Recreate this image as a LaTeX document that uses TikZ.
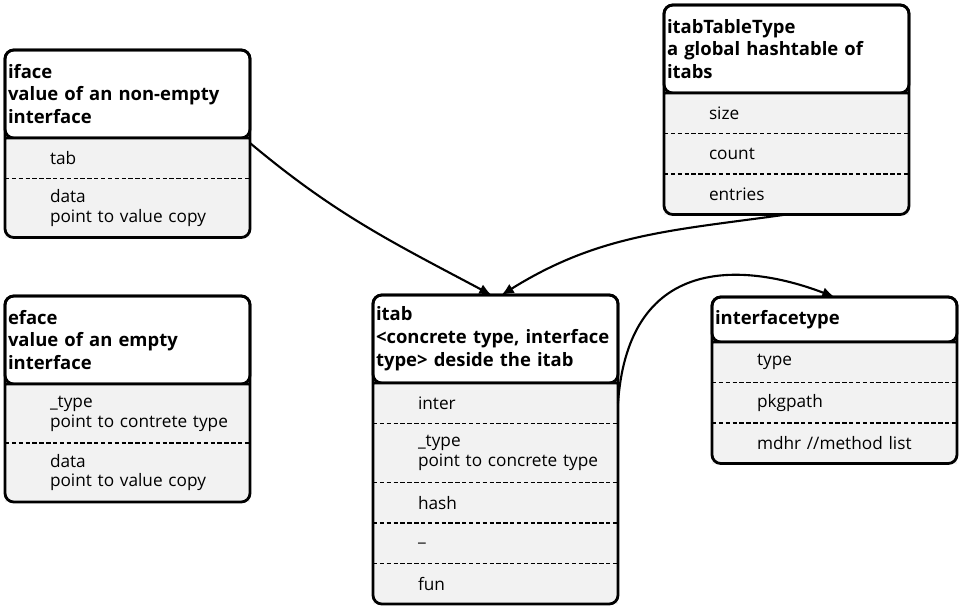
\documentclass[tikz,border=0pt]{standalone}
\usepackage{fontspec}
\setmainfont{Open Sans}
\usetikzlibrary{positioning,arrows.meta}
\tikzset{
  head/.style={draw=black, line width=1.6pt, fill=white, rounded corners=5pt, minimum width=4.9cm, minimum height=1.76cm, text width=4.78cm, inner xsep=0.06cm, align=left, outer sep=0pt, font=\fontsize{10.5}{13}\selectfont\bfseries},
  head1/.style={head, minimum height=0.9cm},
  field/.style={fill=gray!10, minimum width=4.9cm, minimum height=0.81cm, text width=4.9cm, inner xsep=0pt, align=left, outer sep=0pt, font=\fontsize{9.8}{11.3}\selectfont, execute at begin node={\leftskip=0.9cm}},
  field2/.style={field, minimum height=1.18cm},
  frame/.style={draw=black, line width=1.6pt, rounded corners=5pt},
  sep/.style={draw=black, line width=1pt, dash pattern=on 2.5pt off 1.4pt},
  link/.style={-{Latex[length=7pt,width=6pt]}, line width=1.2pt, black}
}
\begin{document}
\begin{tikzpicture}
      \useasboundingbox (0,0) rectangle (19.24,-12.2);

      \node[head, anchor=north west] (iface) at (0.1,-1.0) {iface\\value of an non-empty\\interface};
      \node[field, below=0pt of iface] (iface-tab) {tab};
      \node[field2, below=0pt of iface-tab] (iface-data) {data\\point to value copy};
      \draw[frame] (iface.north west) rectangle (iface-data.south east) (iface.south west) -- (iface.south east);
      \draw[sep] (iface-tab.south west) -- (iface-tab.south east);

      \node[head, anchor=north west] (eface) at (0.1,-5.92) {eface\\value of an empty\\interface};
      \node[field2, below=0pt of eface] (eface-type) {\_type\\point to contrete type};
      \node[field2, below=0pt of eface-type] (eface-data) {data\\point to value copy};
      \draw[frame] (eface.north west) rectangle (eface-data.south east) (eface.south west) -- (eface.south east);
      \draw[sep] (eface-type.south west) -- (eface-type.south east);

      \node[head, anchor=north west] (itab) at (7.46,-5.9) {itab\\<concrete type, interface\\type> deside the itab};
      \node[field, below=0pt of itab] (itab-inter) {inter};
      \node[field2, below=0pt of itab-inter] (itab-type) {\_type\\point to concrete type};
      \node[field, below=0pt of itab-type] (itab-hash) {hash};
      \node[field, below=0pt of itab-hash] (itab-pad) {\_};
      \node[field, below=0pt of itab-pad] (itab-fun) {fun};
      \draw[frame] (itab.north west) rectangle (itab-fun.south east) (itab.south west) -- (itab.south east);
      \draw[sep] (itab-inter.south west) -- (itab-inter.south east);
      \draw[sep] (itab-type.south west) -- (itab-type.south east);
      \draw[sep] (itab-hash.south west) -- (itab-hash.south east);
      \draw[sep] (itab-pad.south west) -- (itab-pad.south east);

      \node[head, anchor=north west] (tbl) at (13.28,-0.1) {itabTableType\\a global hashtable of\\itabs};
      \node[field, below=0pt of tbl] (tbl-size) {size};
      \node[field, below=0pt of tbl-size] (tbl-count) {count};
      \node[field, below=0pt of tbl-count] (tbl-entries) {entries};
      \draw[frame] (tbl.north west) rectangle (tbl-entries.south east) (tbl.south west) -- (tbl.south east);
      \draw[sep] (tbl-size.south west) -- (tbl-size.south east);
      \draw[sep] (tbl-count.south west) -- (tbl-count.south east);

      \node[head1, anchor=north west] (ityp) at (14.24,-5.94) {interfacetype};
      \node[field, below=0pt of ityp] (ityp-type) {type};
      \node[field, below=0pt of ityp-type] (ityp-pkg) {pkgpath};
      \node[field, below=0pt of ityp-pkg] (ityp-mdhr) {mdhr //method list};
      \draw[frame] (ityp.north west) rectangle (ityp-mdhr.south east) (ityp.south west) -- (ityp.south east);
      \draw[sep] (ityp-type.south west) -- (ityp-type.south east);
      \draw[sep] (ityp-pkg.south west) -- (ityp-pkg.south east);

      \draw[link] ([yshift=-0.1cm]iface-tab.north east) to[out=-40,in=152] ([xshift=-0.08cm]itab.north);
      \draw[link] (tbl-entries.south) to[out=188,in=32] ([xshift=0.12cm]itab.north);
      \draw[link] (itab-inter.east) to[out=86,in=159,out distance=3.1cm,in distance=1.78cm] (ityp.north);
    \end{tikzpicture}
\end{document}
